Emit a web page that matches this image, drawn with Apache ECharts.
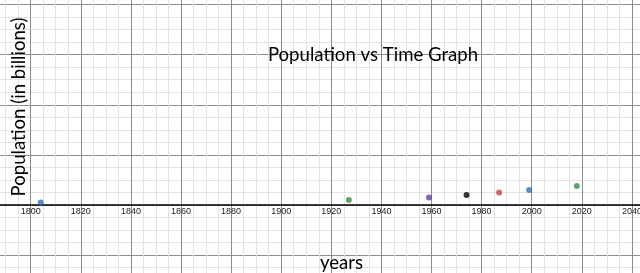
<!DOCTYPE html>
<html>
<head>
<meta charset="utf-8">
<script src="https://cdn.jsdelivr.net/npm/echarts@6/dist/echarts.min.js"></script>
<style>
html,body{margin:0;padding:0;background:#fff;}
#c{width:640px;height:273px;}
</style>
</head>
<body>
<div id="c"></div>
<script>
// Data
var years = [1804, 1927, 1959, 1974, 1987, 1999, 2018];
var population = [1, 2, 3, 4, 5, 6, 7.6];
var xTickLabels = ['1780','1800','1820','1840','1860','1880','1900','1920','1940','1960','1980','2000','2020','2040','2060'];
var titleText = 'Population vs Time Graph';
var xName = 'years';
var yName = 'Population (in billions)';

// styles
var pointColors = ['#2d70b3', '#388c46', '#6042a6', '#000000', '#c74440', '#2d70b3', '#388c46'];

var chart = echarts.init(document.getElementById('c'), null, {renderer: 'canvas'});
var pts = years.map(function (y, i) {
  return {value: [y, population[i]], itemStyle: {color: pointColors[i]}};
});
var font = 'Lato';
chart.setOption({
  animation: false,
  backgroundColor: '#fff',
  grid: {left: -19.4, right: -42, top: -45.5, bottom: -32.2, containLabel: false, outerBoundsMode: 'none'},
  xAxis: {
    type: 'value', min: 1780, max: 2060, interval: 20,
    position: 'bottom', offset: -100.2,
    axisLine: {onZero: false, lineStyle: {color: '#000', width: 1.6}},
    axisTick: {show: false},
    minorTick: {show: false, splitNumber: 4},
    splitLine: {show: true, lineStyle: {color: '#8c8c8c', width: 1, type: 'solid'}},
    minorSplitLine: {show: true, lineStyle: {color: '#e2e2e2', width: 1, type: 'solid'}},
    axisLabel: {
      show: true, margin: 2, fontSize: 9, color: '#222', fontFamily: 'Liberation Sans',
      hideOverlap: false,
      formatter: function (v) { return xTickLabels[xTickLabels.indexOf(String(v))] || ''; }
    },
    z: 5
  },
  yAxis: {
    type: 'value', min: -40, max: 100, interval: 20,
    axisLine: {show: false, onZero: false},
    axisTick: {show: false},
    axisLabel: {show: false},
    minorTick: {show: false, splitNumber: 4},
    splitLine: {show: true, lineStyle: {color: '#8c8c8c', width: 1, type: 'solid'}},
    minorSplitLine: {show: true, lineStyle: {color: '#e2e2e2', width: 1, type: 'solid'}}
  },
  series: [{
    type: 'scatter',
    data: pts,
    symbol: 'circle',
    symbolSize: 6,
    z: 10
  }],
  graphic: [
    {type: 'text', x: 373, y: 55, z: 20,
      style: {text: titleText, align: 'center', verticalAlign: 'middle', fontSize: 18.6, fontFamily: font, fill: '#000'}},
    {type: 'text', x: 341.5, y: 263, z: 20,
      style: {text: xName, align: 'center', verticalAlign: 'middle', fontSize: 18.6, fontFamily: font, fill: '#000'}},
    {type: 'text', x: 19, y: 107, rotation: Math.PI / 2, z: 20,
      style: {text: yName, align: 'center', verticalAlign: 'middle', fontSize: 18.6, fontFamily: font, fill: '#000'}}
  ]
});
</script>
</body>
</html>
